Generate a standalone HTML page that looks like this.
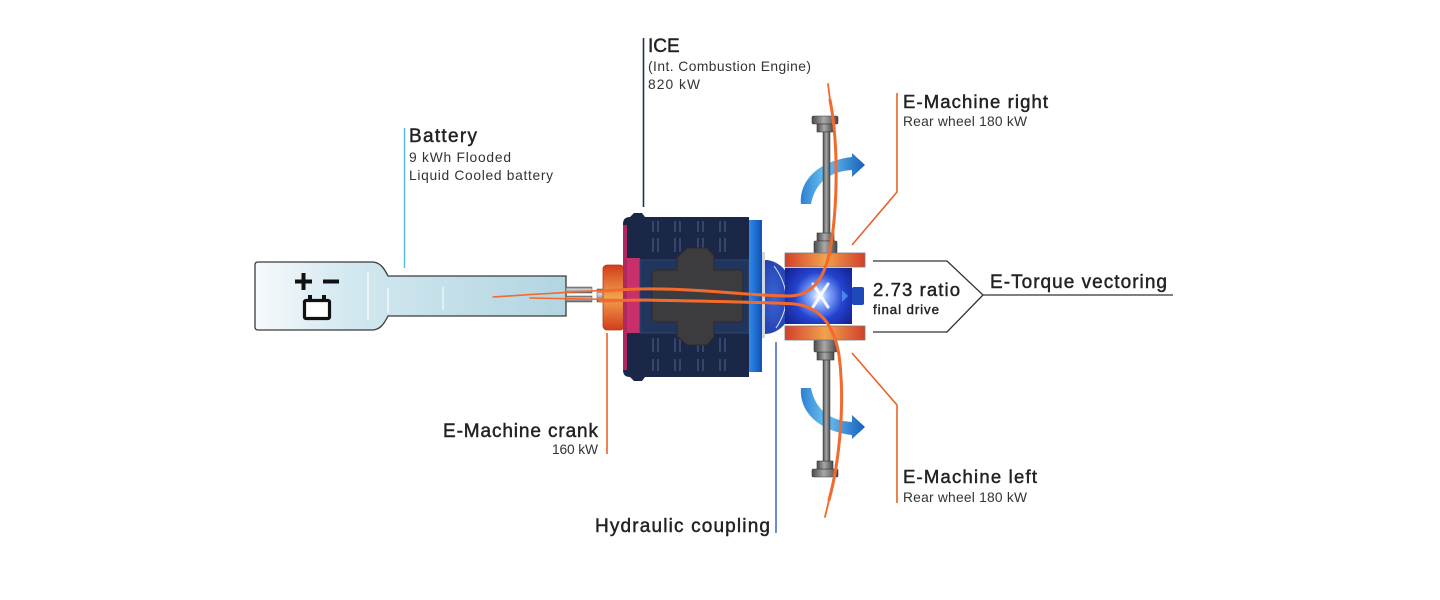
<!DOCTYPE html>
<html>
<head>
<meta charset="utf-8">
<style>
  html,body{margin:0;padding:0;background:#fff;}
  svg{display:block;}
  .h{font-family:"Liberation Sans",Arial,sans-serif;font-size:19px;fill:#222;stroke:#222;stroke-width:0.45px;}
  .s{font-family:"Liberation Sans",Arial,sans-serif;font-size:13.8px;fill:#333;}
</style>
</head>
<body>
<svg width="1440" height="600" viewBox="0 0 1440 600" xmlns="http://www.w3.org/2000/svg">
<defs>
  <linearGradient id="batt" x1="255" y1="0" x2="566" y2="0" gradientUnits="userSpaceOnUse">
    <stop offset="0" stop-color="#f6fafc"/>
    <stop offset="0.3" stop-color="#d3e8f0"/>
    <stop offset="1" stop-color="#b2d5e1"/>
  </linearGradient>
  <linearGradient id="crank" x1="0" y1="0" x2="0" y2="1">
    <stop offset="0" stop-color="#d23c1c"/>
    <stop offset="0.5" stop-color="#f2a24c"/>
    <stop offset="1" stop-color="#d23c1c"/>
  </linearGradient>
  <linearGradient id="bar" x1="0" y1="0" x2="1" y2="0">
    <stop offset="0" stop-color="#d3402a"/>
    <stop offset="0.5" stop-color="#efa24e"/>
    <stop offset="1" stop-color="#d3402a"/>
  </linearGradient>
  <linearGradient id="plate" x1="0" y1="0" x2="1" y2="0">
    <stop offset="0" stop-color="#2f8ae8"/>
    <stop offset="1" stop-color="#1150b6"/>
  </linearGradient>
  <radialGradient id="dome" cx="0.3" cy="0.5" r="0.9">
    <stop offset="0" stop-color="#3a66d4"/>
    <stop offset="1" stop-color="#18289a"/>
  </radialGradient>
  <radialGradient id="gear" cx="819" cy="296" r="40" gradientUnits="userSpaceOnUse">
    <stop offset="0" stop-color="#ffffff"/>
    <stop offset="0.22" stop-color="#8eb0ff"/>
    <stop offset="0.6" stop-color="#2444d0"/>
    <stop offset="1" stop-color="#172496"/>
  </radialGradient>
  <linearGradient id="arrow" x1="800" y1="0" x2="864" y2="0" gradientUnits="userSpaceOnUse">
    <stop offset="0" stop-color="#2a7ed0"/>
    <stop offset="0.4" stop-color="#6cc2f2"/>
    <stop offset="1" stop-color="#1862bc"/>
  </linearGradient>
  <linearGradient id="shaft" x1="0" y1="0" x2="0" y2="1">
    <stop offset="0" stop-color="#6a6a6a"/>
    <stop offset="0.4" stop-color="#d6d6d6"/>
    <stop offset="1" stop-color="#5e5e5e"/>
  </linearGradient>
  <linearGradient id="rod" x1="0" y1="0" x2="1" y2="0">
    <stop offset="0" stop-color="#4a4a4a"/>
    <stop offset="0.45" stop-color="#a8a8a8"/>
    <stop offset="1" stop-color="#4a4a4a"/>
  </linearGradient>
  <g id="axle">
    <rect x="812" y="116" width="26" height="8" rx="1.5" fill="url(#rod)" stroke="#3a3a3a" stroke-width="0.6"/>
    <rect x="817" y="124" width="16" height="8" fill="url(#rod)" stroke="#3a3a3a" stroke-width="0.6"/>
    <rect x="823" y="132" width="7" height="102" fill="url(#rod)" stroke="#3a3a3a" stroke-width="0.5"/>
    <rect x="817" y="233" width="17" height="8" fill="url(#rod)" stroke="#3a3a3a" stroke-width="0.6"/>
    <rect x="814" y="241" width="23" height="12" rx="1.5" fill="url(#rod)" stroke="#3a3a3a" stroke-width="0.6"/>
  </g>
  <path id="barrow" d="M 801 204 C 799 181, 818 161, 852 157 L 852 153 L 865 165 L 852 177 L 852 170 C 830 171, 815 183, 811 204 Z" fill="url(#arrow)"/>
</defs>

<!-- leader lines -->
<line x1="404.5" y1="128" x2="404.5" y2="268" stroke="#5bbbe8" stroke-width="1.5"/>
<line x1="643.5" y1="38" x2="643.5" y2="207" stroke="#1f2f5a" stroke-width="1.6"/>
<line x1="607" y1="333" x2="607" y2="454" stroke="#e8622a" stroke-width="1.6"/>
<line x1="776" y1="342" x2="776" y2="533" stroke="#4a6fd0" stroke-width="1.6"/>
<polyline points="897,93 897,192 852,245" fill="none" stroke="#e8622a" stroke-width="1.6"/>
<polyline points="852,353 897,405 897,503" fill="none" stroke="#e8622a" stroke-width="1.6"/>

<!-- bracket -->
<polyline points="873,261 947,261 983,295 947,332 873,332" fill="none" stroke="#333" stroke-width="1.3"/>
<line x1="983" y1="295" x2="1173" y2="295" stroke="#333" stroke-width="1.3"/>

<!-- battery -->
<path d="M 258 262 L 372 262 C 380 262, 384 268, 388 276 L 566 276 L 566 316 L 388 316 C 384 324, 380 330, 372 330 L 258 330 Q 255 330 255 327 L 255 265 Q 255 262 258 262 Z" fill="url(#batt)" stroke="#3a3a3a" stroke-width="1.3"/>
<line x1="368" y1="272" x2="368" y2="320" stroke="#fff" stroke-width="1.4" opacity="0.8"/>
<line x1="388" y1="288" x2="388" y2="313" stroke="#fff" stroke-width="1.4" opacity="0.8"/>
<line x1="443" y1="287" x2="443" y2="310" stroke="#fff" stroke-width="1.4" opacity="0.8"/>
<!-- + - and battery icon -->
<rect x="295" y="279.5" width="17" height="4" fill="#111"/>
<rect x="301.5" y="273" width="4" height="17" fill="#111"/>
<rect x="323" y="279.5" width="16" height="4" fill="#111"/>
<rect x="304.5" y="300.5" width="25" height="18" rx="1.5" fill="#fff" stroke="#111" stroke-width="3.2"/>
<rect x="308" y="295" width="4" height="4" fill="#111"/>
<rect x="322" y="295" width="4" height="4" fill="#111"/>

<!-- shaft and crank -->
<rect x="566" y="287" width="26" height="6" fill="url(#shaft)" stroke="#555" stroke-width="0.5"/>
<rect x="566" y="296" width="26" height="6" fill="url(#shaft)" stroke="#555" stroke-width="0.5"/>
<rect x="597" y="289" width="6" height="13" fill="url(#shaft)" stroke="#555" stroke-width="0.5"/>
<rect x="603" y="265" width="21" height="65" rx="4" fill="url(#crank)" stroke="#b23a1c" stroke-width="0.8"/>

<!-- engine body -->
<path d="M 630 217 L 634 213 L 642 213 L 645 217 L 749 217 L 749 377 L 645 377 L 642 381 L 634 381 L 630 377 Q 623 377 623 370 L 623 224 Q 623 217 630 217 Z" fill="#1b2746"/>
<rect x="623" y="225" width="4" height="145" fill="#b0285f"/>
<rect x="627" y="258" width="13" height="75" fill="#c8306a"/>
<rect x="640" y="260" width="109" height="73" fill="#22355c" stroke="#30446f" stroke-width="1"/>
<g stroke="#5a6a98" stroke-width="1.2" opacity="0.75">
  <line x1="653" y1="221" x2="653" y2="232"/><line x1="658" y1="221" x2="658" y2="232"/>
  <line x1="675" y1="221" x2="675" y2="232"/><line x1="680" y1="221" x2="680" y2="232"/>
  <line x1="698" y1="221" x2="698" y2="232"/><line x1="703" y1="221" x2="703" y2="232"/>
  <line x1="720" y1="221" x2="720" y2="232"/><line x1="725" y1="221" x2="725" y2="232"/>
  <line x1="653" y1="238" x2="653" y2="252"/><line x1="658" y1="238" x2="658" y2="252"/>
  <line x1="675" y1="238" x2="675" y2="252"/><line x1="680" y1="238" x2="680" y2="252"/>
  <line x1="698" y1="238" x2="698" y2="252"/><line x1="703" y1="238" x2="703" y2="252"/>
  <line x1="720" y1="238" x2="720" y2="252"/><line x1="725" y1="238" x2="725" y2="252"/>
  <line x1="653" y1="338" x2="653" y2="352"/><line x1="658" y1="338" x2="658" y2="352"/>
  <line x1="675" y1="338" x2="675" y2="352"/><line x1="680" y1="338" x2="680" y2="352"/>
  <line x1="698" y1="338" x2="698" y2="352"/><line x1="703" y1="338" x2="703" y2="352"/>
  <line x1="720" y1="338" x2="720" y2="352"/><line x1="725" y1="338" x2="725" y2="352"/>
  <line x1="653" y1="359" x2="653" y2="371"/><line x1="658" y1="359" x2="658" y2="371"/>
  <line x1="675" y1="359" x2="675" y2="371"/><line x1="680" y1="359" x2="680" y2="371"/>
  <line x1="698" y1="359" x2="698" y2="371"/><line x1="703" y1="359" x2="703" y2="371"/>
  <line x1="720" y1="359" x2="720" y2="371"/><line x1="725" y1="359" x2="725" y2="371"/>
</g>
<!-- gray block -->
<path d="M 656 270 L 677 270 L 677 257 L 687 248 L 707 248 L 714 256 L 714 270 L 739 270 Q 743 270 743 274 L 743 318 Q 743 322 739 322 L 714 322 L 714 337 L 707 345 L 687 345 L 677 336 L 677 322 L 656 322 Q 652 322 652 318 L 652 274 Q 652 270 656 270 Z" fill="#3c3c3f" stroke="#2b2b2e" stroke-width="1"/>

<!-- plate and dome -->
<rect x="749" y="220" width="13" height="152" fill="url(#plate)"/>
<rect x="762" y="252" width="3" height="86" fill="#cfd6e0"/>
<path d="M 765 260 A 29 37 0 0 1 765 334 Z" fill="url(#dome)"/>
<path d="M 774 266 Q 797 297 776 328" fill="none" stroke="#fff" stroke-width="1" opacity="0.85"/>

<!-- blue arrows -->
<use href="#barrow"/>
<use href="#barrow" transform="translate(0,592) scale(1,-1)"/>

<!-- axles -->
<use href="#axle"/>
<use href="#axle" transform="translate(0,593) scale(1,-1)"/>

<!-- bars and gearbox -->
<rect x="785" y="253" width="80" height="14" fill="url(#bar)" stroke="#7a7a7a" stroke-width="0.8"/>
<rect x="785" y="326" width="80" height="14" fill="url(#bar)" stroke="#7a7a7a" stroke-width="0.8"/>
<rect x="785" y="268" width="67" height="56" fill="url(#gear)"/>
<rect x="852" y="287" width="12" height="18" rx="2" fill="#1c4ab8"/>
<path d="M 842 290 L 848 296 L 842 302 Z" fill="#4a86e8"/>
<g stroke="#fff" stroke-width="3" opacity="0.9" stroke-linecap="round">
  <line x1="813" y1="284" x2="828" y2="307"/>
  <line x1="828" y1="284" x2="813" y2="307"/>
</g>

<!-- orange flow lines -->
<g fill="none" stroke="#f26a2e" stroke-linecap="round">
  <path d="M 493 297 C 540 294, 600 290, 640 289" stroke-width="1.6"/>
  <path d="M 530 298 L 640 300" stroke-width="1.6"/>
  <path d="M 600 291 C 620 290, 630 289, 640 289 C 700 288, 750 296, 790 296 C 815 295, 826 275, 831 245 C 838 200, 838 140, 830 100" stroke-width="3"/>
  <path d="M 830 100 L 828 84" stroke-width="1.8"/>
  <path d="M 600 301 L 640 300 C 700 301, 760 302, 795 304 C 820 307, 834 325, 839 355 C 845 400, 840 460, 829 500" stroke-width="3"/>
  <path d="M 829 500 L 825 517" stroke-width="1.8"/>
</g>

<!-- labels -->
<text class="h" x="648" y="52" style="font-size:19px">ICE</text>
<text class="s" x="648" y="71" textLength="163" lengthAdjust="spacing">(Int. Combustion Engine)</text>
<text class="s" x="648" y="89" textLength="52" lengthAdjust="spacing">820 kW</text>

<text class="h" x="409" y="142" textLength="68" lengthAdjust="spacing">Battery</text>
<text class="s" x="409" y="162" textLength="102" lengthAdjust="spacing">9 kWh Flooded</text>
<text class="s" x="409" y="180" textLength="144" lengthAdjust="spacing">Liquid Cooled battery</text>

<text class="h" x="903" y="108" style="font-size:18.5px" textLength="145" lengthAdjust="spacing">E-Machine right</text>
<text class="s" x="903" y="126" textLength="124" lengthAdjust="spacing">Rear wheel 180 kW</text>

<text class="h" x="903" y="483" style="font-size:18.5px" textLength="134" lengthAdjust="spacing">E-Machine left</text>
<text class="s" x="903" y="502" textLength="124" lengthAdjust="spacing">Rear wheel 180 kW</text>

<text class="h" x="443" y="437" textLength="155" lengthAdjust="spacing">E-Machine crank</text>
<text class="s" x="552" y="454" textLength="46" lengthAdjust="spacing">160 kW</text>

<text class="h" x="595" y="532" textLength="175" lengthAdjust="spacing">Hydraulic coupling</text>

<text class="h" x="873" y="296" style="font-size:18.5px" textLength="87" lengthAdjust="spacing">2.73 ratio</text>
<text class="s" x="873" y="314" style="fill:#222;stroke:#222;stroke-width:0.4px;font-size:13.3px" textLength="66" lengthAdjust="spacing">final drive</text>

<text class="h" x="990" y="288" textLength="177" lengthAdjust="spacing">E-Torque vectoring</text>
</svg>
</body>
</html>
